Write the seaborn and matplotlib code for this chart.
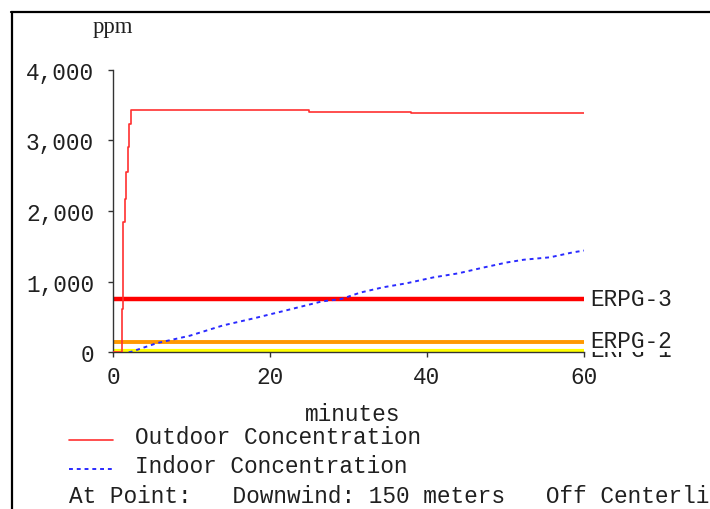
import matplotlib
matplotlib.use("Agg")
import matplotlib.pyplot as plt
from matplotlib.lines import Line2D
import seaborn as sns

# ---- data ----
out_t = [0, 1.15, 1.27, 1.53, 1.66, 1.87, 2.04, 2.25, 25.0, 38.0, 60.0]
out_v = [0, 610, 1840, 2170, 2545, 2900, 3230, 3430, 3405, 3387, 3387]

in_t = [2.0, 2.4, 5.6, 9.8, 14.0, 18.1, 22.3, 26.6, 29.1, 31.5, 34.4, 37.4,
        40.8, 44.0, 47.2, 50.2, 52.3, 55.7, 58.6, 60.0]
in_v = [0, 10, 130, 235, 380, 485, 600, 720, 755, 845, 920, 977,
        1060, 1118, 1200, 1272, 1310, 1345, 1415, 1440]

erpg_names = ["ERPG-1", "ERPG-2", "ERPG-3"]
erpg_values = [25, 150, 750]
erpg_colors = ["#ffff00", "#ff9900", "#ff0000"]

x_ticks = [0, 20, 40, 60]
y_ticks = [0, 1000, 2000, 3000, 4000]
y_labels = ["0", "1,000", "2,000", "3,000", "4,000"]

legend_labels = ["Outdoor Concentration", "Indoor Concentration"]
point_text = "At Point:   Downwind: 150 meters   Off Centerline"

# ---- style ----
sns.set_theme(style="ticks")
plt.rcParams["font.family"] = ["Liberation Mono", "DejaVu Sans"]
FS = 16.4
TXT = "#202020"

W, H = 710, 510
fig = plt.figure(figsize=(W / 100, H / 100), dpi=100)
fig.patch.set_facecolor("white")

def fx(px):
    return px / W

def fy(py):
    return (H - py) / H

ax = fig.add_axes([fx(113), fy(353.3), fx(584) - fx(113), fy(70.7) - fy(353.3)])
ax.set_facecolor("white")

# threshold lines
for name, val, col, lw in zip(erpg_names, erpg_values, erpg_colors, [3.0, 2.8, 3.2]):
    sns.lineplot(x=[0, 60], y=[val, val], color=col, linewidth=lw, ax=ax,
                 zorder=2, solid_capstyle="butt")

# data lines
sns.lineplot(x=out_t, y=out_v, color="#ff3030", linewidth=1.2,
             drawstyle="steps-post", ax=ax, zorder=4)
sns.lineplot(x=in_t, y=in_v, color="#2a2aff", linewidth=1.4,
             linestyle=(0, (2, 2)), ax=ax, zorder=4)

ax.set_xlim(0, 60)
ax.set_ylim(0, 4000)
ax.set_xticks(x_ticks)
ax.set_xticklabels([str(t) for t in x_ticks])
ax.set_yticks(y_ticks)
ax.set_yticklabels(y_labels)
ax.tick_params(axis="both", labelsize=FS, colors="#333333", labelcolor=TXT,
               length=3.6, width=1.0)
ax.tick_params(axis="y", pad=10)
ax.tick_params(axis="x", pad=5.4)
for s in ["top", "right"]:
    ax.spines[s].set_visible(False)
for s in ["left", "bottom"]:
    ax.spines[s].set_color("#333333")
    ax.spines[s].set_linewidth(1.0)
ax.set_xlabel("")
ax.set_ylabel("")

# ERPG labels (ERPG-2 has white box partially hiding ERPG-1)
zs = {"ERPG-1": 5, "ERPG-2": 6, "ERPG-3": 6}
for name, val in zip(erpg_names, erpg_values):
    kw = {}
    if name == "ERPG-2":
        kw["bbox"] = dict(facecolor="white", edgecolor="none", pad=0)
    ax.annotate(name, xy=(60.75, val), xytext=(0, 2.4), textcoords="offset points",
                fontsize=FS, color=TXT, va="center_baseline", ha="left",
                annotation_clip=False, zorder=zs[name], **kw)

# axis titles
fig.text(fx(113), fy(33), "ppm", fontsize=FS, color=TXT,
         family=["Liberation Serif", "DejaVu Serif"], ha="center", va="baseline")
fig.text(fx(353), fy(421), "minutes", fontsize=FS, color=TXT,
         ha="center", va="baseline")

# legend block
fig.add_artist(Line2D([fx(69), fx(113)], [fy(440.5), fy(440.5)],
                      color="#ff3030", linewidth=1.2))
fig.add_artist(Line2D([fx(69), fx(113)], [fy(470), fy(470)],
                      color="#2a2aff", linewidth=1.4, linestyle=(0, (2, 2))))
fig.text(fx(135), fy(444), legend_labels[0], fontsize=FS, color=TXT, va="baseline")
fig.text(fx(135), fy(473), legend_labels[1], fontsize=FS, color=TXT, va="baseline")
fig.text(fx(69), fy(503), point_text, fontsize=FS, color=TXT, va="baseline")

# frame (top and left edges visible)
fig.add_artist(Line2D([fx(11), 1.0], [fy(13), fy(13)], color="black", linewidth=1.6))
fig.add_artist(Line2D([fx(11.5), fx(11.5)], [fy(13), 0.0], color="black", linewidth=1.6))

fig.savefig("out.png", dpi=100, facecolor="white")
